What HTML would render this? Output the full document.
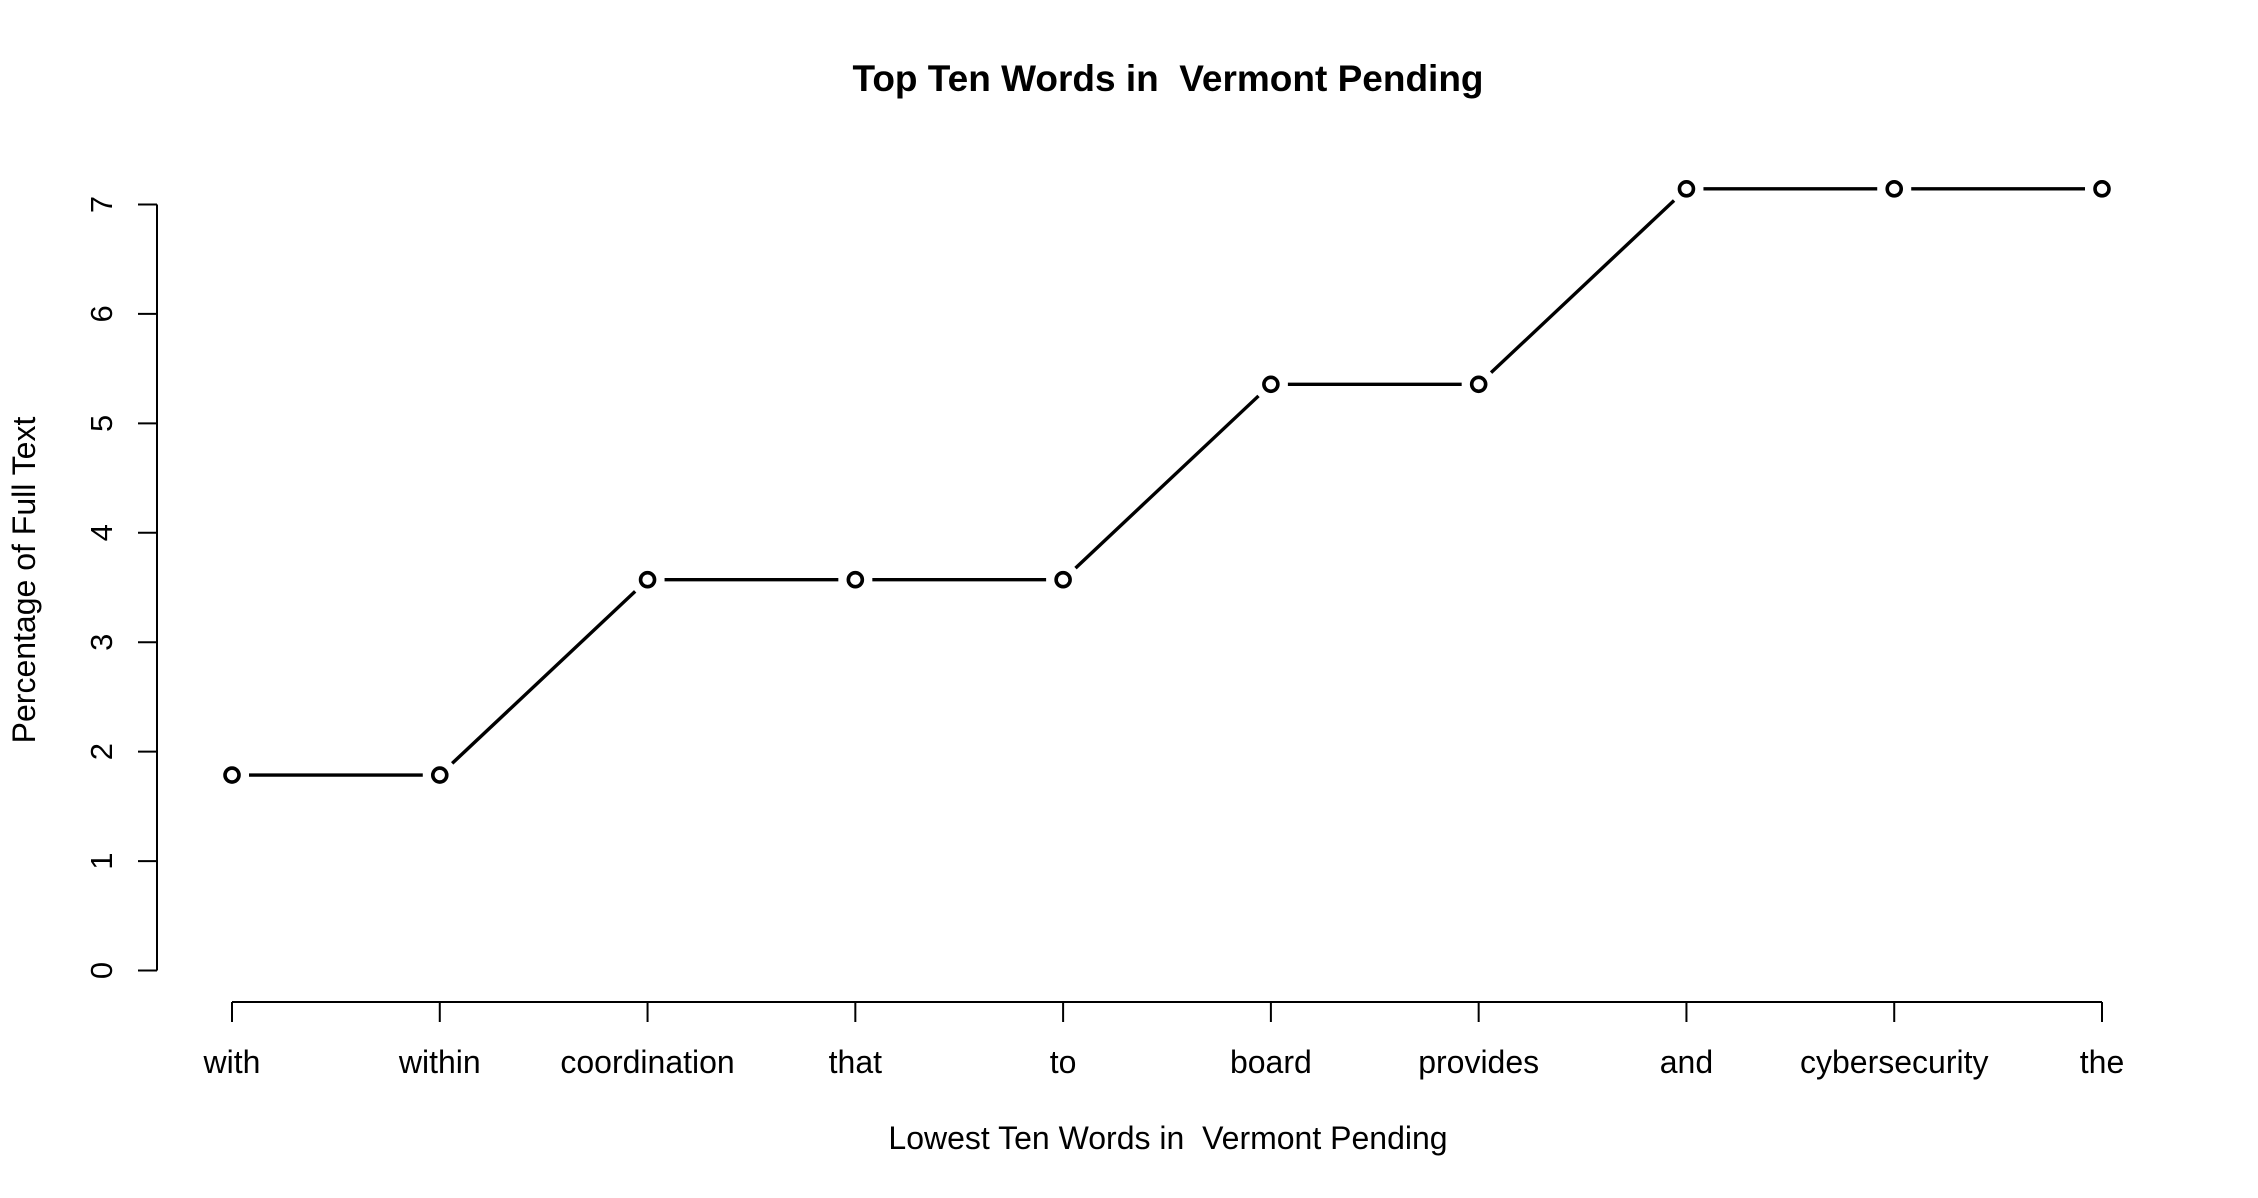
<!DOCTYPE html>
<html><head><meta charset="utf-8"><style>
html,body{margin:0;padding:0;background:#fff;}
svg{display:block;font-family:"Liberation Sans",Arial,sans-serif;}
text{white-space:pre;}
</style></head><body>
<svg id="chart" width="2258" height="1198" viewBox="0 0 2258 1198" xmlns="http://www.w3.org/2000/svg">
<text x="1168" y="91" text-anchor="middle" font-size="37" font-weight="bold" xml:space="preserve">Top Ten Words in  Vermont Pending</text>
<text x="1168" y="1149" text-anchor="middle" font-size="32" xml:space="preserve">Lowest Ten Words in  Vermont Pending</text>
<text transform="translate(35,580) rotate(-90)" text-anchor="middle" font-size="32">Percentage of Full Text</text>
<g id="axes"></g>
<g id="series"></g>
</svg>
<script>
const categories = ["with","within","coordination","that","to","board","provides","and","cybersecurity","the"];
const values = [1.786,1.786,3.571,3.571,3.571,5.357,5.357,7.143,7.143,7.143];
const yTicks = [0,1,2,3,4,5,6,7];

const NS = "http://www.w3.org/2000/svg";
const x0 = 232, x1 = 2102, y0px = 970.5, y7px = 204.5;
function xScale(i){ return x0 + i*(x1-x0)/(categories.length-1); }
function yScale(v){ return y0px + (y7px-y0px)*v/7; }
function mk(tag, attrs, parent){ const e=document.createElementNS(NS,tag); for(const k in attrs) e.setAttribute(k,attrs[k]); parent.appendChild(e); return e; }
const axes=document.getElementById('axes'), series=document.getElementById('series');

const yAxis = mk('line',{x1:157,x2:157,y1:yScale(0),y2:yScale(7),stroke:'#000','stroke-width':2},axes);


yTicks.forEach(t=>{
  const tk=mk('line',{x1:138,x2:157,y1:yScale(t),y2:yScale(t),stroke:'#000','stroke-width':2},axes);
  
  
  const lb=mk('text',{transform:`translate(112,${yScale(t)}) rotate(-90)`,'text-anchor':'middle','font-size':31},axes);
  lb.textContent=t;
  
  
});
const xAxis = mk('line',{x1:xScale(0),x2:xScale(categories.length-1),y1:1002,y2:1002,stroke:'#000','stroke-width':2},axes);


categories.forEach((c,i)=>{
  const tk=mk('line',{x1:xScale(i),x2:xScale(i),y1:1002,y2:1022,stroke:'#000','stroke-width':2},axes);
  
  
  const lb=mk('text',{x:xScale(i),y:1073,'text-anchor':'middle','font-size':32},axes);
  lb.textContent=c;
  
  
});
const gap=17;
for(let i=0;i<values.length-1;i++){
  const ax=xScale(i), ay=yScale(values[i]), bx=xScale(i+1), by=yScale(values[i+1]);
  const dx=bx-ax, dy=by-ay, L=Math.hypot(dx,dy), ux=dx/L, uy=dy/L;
  const s=mk('line',{x1:ax+ux*gap,y1:ay+uy*gap,x2:bx-ux*gap,y2:by-uy*gap,stroke:'#000','stroke-width':3.4},series);
  
  
}
values.forEach((v,i)=>{
  const p=mk('circle',{cx:xScale(i),cy:yScale(v),r:7,fill:'none',stroke:'#000','stroke-width':3.6},series);
  
  
});
</script>
</body></html>
